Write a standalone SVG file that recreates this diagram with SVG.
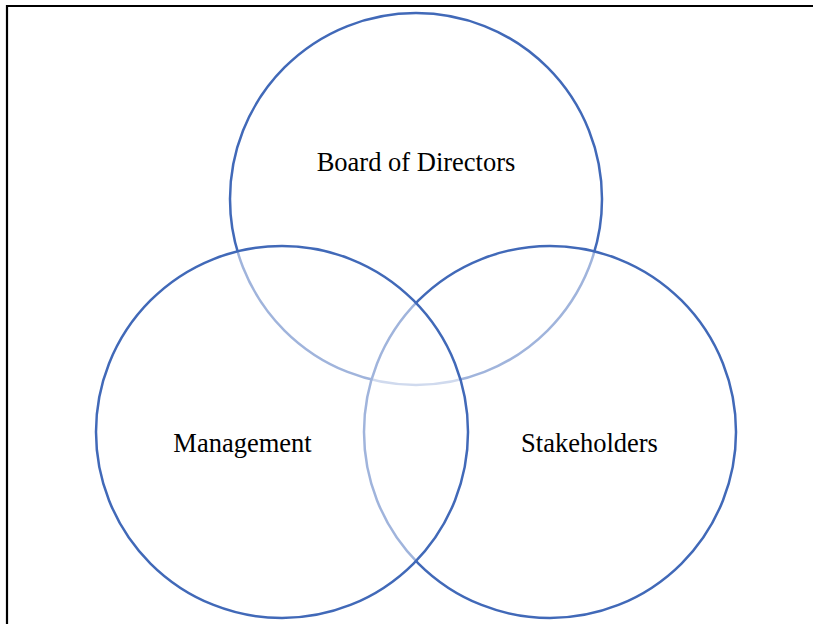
<svg xmlns="http://www.w3.org/2000/svg" width="814" height="624" viewBox="0 0 814 624">
<style>
.c{fill:#ffffff;fill-opacity:0.5;stroke:#4169B8;stroke-width:2.5}
.t{font-family:"Liberation Serif","Times New Roman",serif;font-size:26.5px;fill:#000;text-anchor:middle}
</style>
<rect x="0" y="0" width="814" height="624" fill="#ffffff"/>
<g id="frame" stroke="#000" stroke-width="2.2" fill="none">
<path d="M7,624 V6 H813"/>
</g>
<g id="connectors"></g>
<g id="board"><circle class="c" cx="416" cy="199" r="186"/></g>
<g id="stakeholders"><circle class="c" cx="550" cy="432" r="186"/></g>
<g id="management"><circle class="c" cx="282" cy="432" r="186"/></g>
<g id="labels">
<text class="t" x="416" y="171">Board of Directors</text>
<text class="t" x="242.5" y="452">Management</text>
<text class="t" x="589.5" y="452">Stakeholders</text>
</g>
</svg>
